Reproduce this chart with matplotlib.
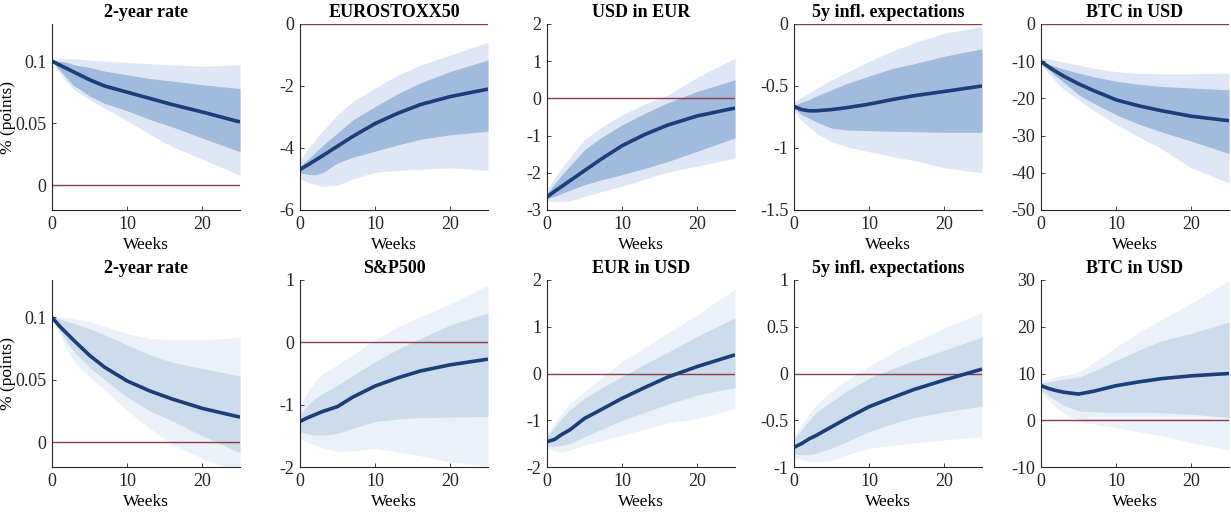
import matplotlib
matplotlib.use("Agg")
import matplotlib.pyplot as plt

plt.rcParams['font.family'] = ['Liberation Serif', 'DejaVu Serif']
plt.rcParams['axes.unicode_minus'] = False

weeks = [0, 1, 2, 3, 5, 7, 10, 13, 16, 20, 25]

# ---- top row ----
titles_top = ['2-year rate', 'EUROSTOXX50', 'USD in EUR', '5y infl. expectations', 'BTC in USD']

t_rate_med = [0.100, 0.097, 0.094, 0.091, 0.085, 0.080, 0.075, 0.070, 0.065, 0.059, 0.051]
t_rate_in_lo = [0.100, 0.093, 0.086, 0.080, 0.072, 0.066, 0.060, 0.053, 0.047, 0.038, 0.027]
t_rate_in_hi = [0.100, 0.100, 0.099, 0.097, 0.095, 0.092, 0.089, 0.086, 0.084, 0.081, 0.078]
t_rate_out_lo = [0.100, 0.091, 0.083, 0.077, 0.069, 0.062, 0.052, 0.041, 0.031, 0.021, 0.008]
t_rate_out_hi = [0.100, 0.102, 0.102, 0.102, 0.101, 0.100, 0.099, 0.098, 0.097, 0.096, 0.097]

t_stox_med = [-4.69, -4.55, -4.40, -4.25, -3.94, -3.63, -3.21, -2.88, -2.60, -2.34, -2.10]
t_stox_in_lo = [-4.80, -4.85, -4.86, -4.80, -4.48, -4.30, -4.10, -3.90, -3.72, -3.57, -3.46]
t_stox_in_hi = [-4.60, -4.38, -4.15, -3.92, -3.51, -3.10, -2.66, -2.25, -1.90, -1.53, -1.16]
t_stox_out_lo = [-5.00, -5.10, -5.18, -5.24, -5.20, -5.00, -4.78, -4.72, -4.69, -4.64, -4.72]
t_stox_out_hi = [-4.40, -4.05, -3.75, -3.45, -2.93, -2.50, -2.07, -1.65, -1.33, -1.00, -0.59]

t_usd_med = [-2.65, -2.50, -2.36, -2.22, -1.94, -1.66, -1.27, -0.97, -0.72, -0.47, -0.26]
t_usd_in_lo = [-2.70, -2.63, -2.55, -2.47, -2.32, -2.20, -2.05, -1.88, -1.70, -1.42, -1.06]
t_usd_in_hi = [-2.55, -2.30, -2.05, -1.82, -1.38, -1.08, -0.71, -0.40, -0.12, 0.19, 0.50]
t_usd_out_lo = [-2.75, -2.77, -2.77, -2.76, -2.63, -2.52, -2.36, -2.17, -1.98, -1.82, -1.60]
t_usd_out_hi = [-2.45, -2.15, -1.85, -1.60, -1.11, -0.80, -0.44, -0.15, 0.08, 0.57, 1.08]

t_infl_med = [-0.665, -0.69, -0.70, -0.70, -0.69, -0.675, -0.646, -0.61, -0.578, -0.544, -0.500]
t_infl_in_lo = [-0.68, -0.73, -0.76, -0.79, -0.84, -0.855, -0.86, -0.865, -0.868, -0.874, -0.874]
t_infl_in_hi = [-0.66, -0.63, -0.61, -0.58, -0.53, -0.48, -0.42, -0.36, -0.32, -0.26, -0.20]
t_infl_out_lo = [-0.70, -0.78, -0.83, -0.88, -0.95, -0.99, -1.03, -1.07, -1.10, -1.16, -1.20]
t_infl_out_hi = [-0.63, -0.59, -0.56, -0.52, -0.45, -0.39, -0.30, -0.22, -0.15, -0.075, -0.02]

t_btc_med = [-10.1, -11.5, -12.8, -14.0, -16.1, -17.9, -20.4, -22.0, -23.3, -24.8, -26.0]
t_btc_in_lo = [-10.5, -12.3, -14.0, -15.6, -19.0, -21.3, -24.4, -26.9, -29.0, -31.5, -34.8]
t_btc_in_hi = [-10.0, -10.8, -11.5, -12.1, -13.2, -14.2, -15.4, -16.2, -16.8, -17.2, -17.7]
t_btc_out_lo = [-11.0, -13.3, -15.5, -17.5, -20.4, -23.2, -27.0, -30.3, -33.5, -38.7, -42.7]
t_btc_out_hi = [-9.0, -9.4, -9.8, -10.2, -11.0, -11.9, -12.8, -13.3, -13.4, -13.4, -13.2]

# ---- bottom row ----
titles_bot = ['2-year rate', 'S&P500', 'EUR in USD', '5y infl. expectations', 'BTC in USD']

b_rate_med = [0.100, 0.093, 0.087, 0.081, 0.0695, 0.060, 0.049, 0.041, 0.0345, 0.027, 0.020]
b_rate_in_lo = [0.100, 0.090, 0.080, 0.072, 0.060, 0.050, 0.036, 0.025, 0.017, 0.005, -0.0086]
b_rate_in_hi = [0.100, 0.099, 0.097, 0.095, 0.091, 0.086, 0.078, 0.070, 0.064, 0.059, 0.053]
b_rate_out_lo = [0.100, 0.087, 0.074, 0.064, 0.052, 0.042, 0.025, 0.011, -0.002, -0.013, -0.025]
b_rate_out_hi = [0.100, 0.100, 0.100, 0.099, 0.0965, 0.093, 0.087, 0.083, 0.082, 0.082, 0.084]

b_spx_med = [-1.27, -1.21, -1.16, -1.11, -1.03, -0.88, -0.70, -0.57, -0.46, -0.36, -0.27]
b_spx_in_lo = [-1.43, -1.47, -1.49, -1.49, -1.46, -1.38, -1.27, -1.23, -1.21, -1.20, -1.19]
b_spx_in_hi = [-1.15, -1.02, -0.90, -0.82, -0.69, -0.53, -0.31, -0.11, 0.06, 0.28, 0.47]
b_spx_out_lo = [-1.55, -1.60, -1.65, -1.70, -1.75, -1.74, -1.70, -1.76, -1.82, -1.92, -1.98]
b_spx_out_hi = [-1.00, -0.80, -0.63, -0.50, -0.36, -0.20, 0.04, 0.25, 0.41, 0.62, 0.92]

b_eur_med = [-1.46, -1.41, -1.30, -1.21, -0.96, -0.79, -0.53, -0.30, -0.08, 0.15, 0.40]
b_eur_in_lo = [-1.55, -1.55, -1.54, -1.50, -1.35, -1.21, -1.00, -0.83, -0.66, -0.46, -0.30]
b_eur_in_hi = [-1.35, -1.15, -0.95, -0.78, -0.53, -0.33, -0.065, 0.20, 0.45, 0.80, 1.19]
b_eur_out_lo = [-1.60, -1.65, -1.68, -1.64, -1.53, -1.45, -1.32, -1.19, -1.06, -0.96, -0.75]
b_eur_out_hi = [-1.30, -1.05, -0.85, -0.65, -0.39, -0.12, 0.26, 0.56, 0.86, 1.26, 1.81]

b_infl_med = [-0.79, -0.75, -0.70, -0.66, -0.57, -0.48, -0.355, -0.26, -0.17, -0.07, 0.047]
b_infl_in_lo = [-0.86, -0.87, -0.87, -0.85, -0.80, -0.73, -0.62, -0.54, -0.47, -0.41, -0.35]
b_infl_in_hi = [-0.70, -0.60, -0.50, -0.41, -0.30, -0.19, -0.05, 0.05, 0.14, 0.25, 0.39]
b_infl_out_lo = [-0.90, -0.92, -0.94, -0.95, -0.93, -0.87, -0.80, -0.77, -0.74, -0.71, -0.68]
b_infl_out_hi = [-0.68, -0.55, -0.43, -0.33, -0.19, -0.07, 0.075, 0.22, 0.34, 0.49, 0.65]

b_btc_med = [7.4, 6.8, 6.35, 6.0, 5.6, 6.2, 7.4, 8.2, 8.9, 9.5, 10.0]
b_btc_in_lo = [6.5, 5.3, 4.2, 3.2, 2.0, 1.8, 1.7, 1.7, 1.6, 1.3, 0.6]
b_btc_in_hi = [8.0, 8.2, 8.5, 8.8, 9.2, 10.5, 12.8, 15.0, 17.0, 18.6, 21.0]
b_btc_out_lo = [6.0, 4.3, 2.7, 1.5, -0.1, -0.8, -1.6, -2.5, -3.3, -4.8, -6.3]
b_btc_out_hi = [8.5, 8.8, 9.2, 9.6, 10.3, 12.3, 15.7, 18.8, 21.5, 25.1, 29.8]

top_series = [
    (t_rate_med, t_rate_in_lo, t_rate_in_hi, t_rate_out_lo, t_rate_out_hi),
    (t_stox_med, t_stox_in_lo, t_stox_in_hi, t_stox_out_lo, t_stox_out_hi),
    (t_usd_med, t_usd_in_lo, t_usd_in_hi, t_usd_out_lo, t_usd_out_hi),
    (t_infl_med, t_infl_in_lo, t_infl_in_hi, t_infl_out_lo, t_infl_out_hi),
    (t_btc_med, t_btc_in_lo, t_btc_in_hi, t_btc_out_lo, t_btc_out_hi),
]
bot_series = [
    (b_rate_med, b_rate_in_lo, b_rate_in_hi, b_rate_out_lo, b_rate_out_hi),
    (b_spx_med, b_spx_in_lo, b_spx_in_hi, b_spx_out_lo, b_spx_out_hi),
    (b_eur_med, b_eur_in_lo, b_eur_in_hi, b_eur_out_lo, b_eur_out_hi),
    (b_infl_med, b_infl_in_lo, b_infl_in_hi, b_infl_out_lo, b_infl_out_hi),
    (b_btc_med, b_btc_in_lo, b_btc_in_hi, b_btc_out_lo, b_btc_out_hi),
]

top_ylims = [(-0.02, 0.13), (-6, 0), (-3, 2), (-1.5, 0), (-50, 0)]
top_yticks = [[0, 0.05, 0.1], [-6, -4, -2, 0], [-3, -2, -1, 0, 1, 2],
              [-1.5, -1, -0.5, 0], [-50, -40, -30, -20, -10, 0]]
bot_ylims = [(-0.02, 0.13), (-2, 1), (-2, 2), (-1, 1), (-10, 30)]
bot_yticks = [[0, 0.05, 0.1], [-2, -1, 0, 1], [-2, -1, 0, 1, 2],
              [-1, -0.5, 0, 0.5, 1], [-10, 0, 10, 20, 30]]

W, H = 1231, 513
fig = plt.figure(figsize=(W / 100, H / 100), dpi=100)

lefts = [52, 300, 547, 794, 1041]
ax_w = 188
rows = [
    dict(top=24, bottom=210, titles=titles_top, series=top_series, ylims=top_ylims,
         yticks=top_yticks, c_in='#a0bbdb', c_out='#dfe6f5'),
    dict(top=280, bottom=467, titles=titles_bot, series=bot_series, ylims=bot_ylims,
         yticks=bot_yticks, c_in='#cddcec', c_out='#ebf1f9'),
]

for row in rows:
    for i in range(5):
        ax = fig.add_axes([lefts[i] / W, (H - row['bottom']) / H, ax_w / W,
                           (row['bottom'] - row['top']) / H])
        med, in_lo, in_hi, out_lo, out_hi = row['series'][i]
        ax.fill_between(weeks, out_lo, out_hi, color=row['c_out'], lw=0)
        ax.fill_between(weeks, in_lo, in_hi, color=row['c_in'], lw=0)
        ax.axhline(0, color='#8c3a4c', lw=1.0)
        ax.plot(weeks, med, color='#1b3d78', lw=2.6, solid_capstyle='butt',
                solid_joinstyle='round')
        ax.set_xlim(0, 25)
        ax.set_ylim(*row['ylims'][i])
        ax.set_xticks([0, 10, 20])
        ax.set_yticks(row['yticks'][i])
        ax.set_yticklabels(['%g' % v for v in row['yticks'][i]])
        ax.set_title(row['titles'][i], fontsize=13, fontweight='bold', pad=5)
        ax.set_xlabel('Weeks', fontsize=12.5, labelpad=3)
        if i == 0:
            ax.set_ylabel('% (points)', fontsize=12.5)
            ax.yaxis.set_label_coords(-0.19, 0.5)
        for s in ['top', 'right']:
            ax.spines[s].set_visible(False)
        for s in ['left', 'bottom']:
            ax.spines[s].set_color('#262626')
            ax.spines[s].set_linewidth(0.8)
        ax.tick_params(direction='in', length=3, width=0.6, labelsize=13,
                       colors='#262626', pad=4)

fig.savefig('out.png', dpi=100)
